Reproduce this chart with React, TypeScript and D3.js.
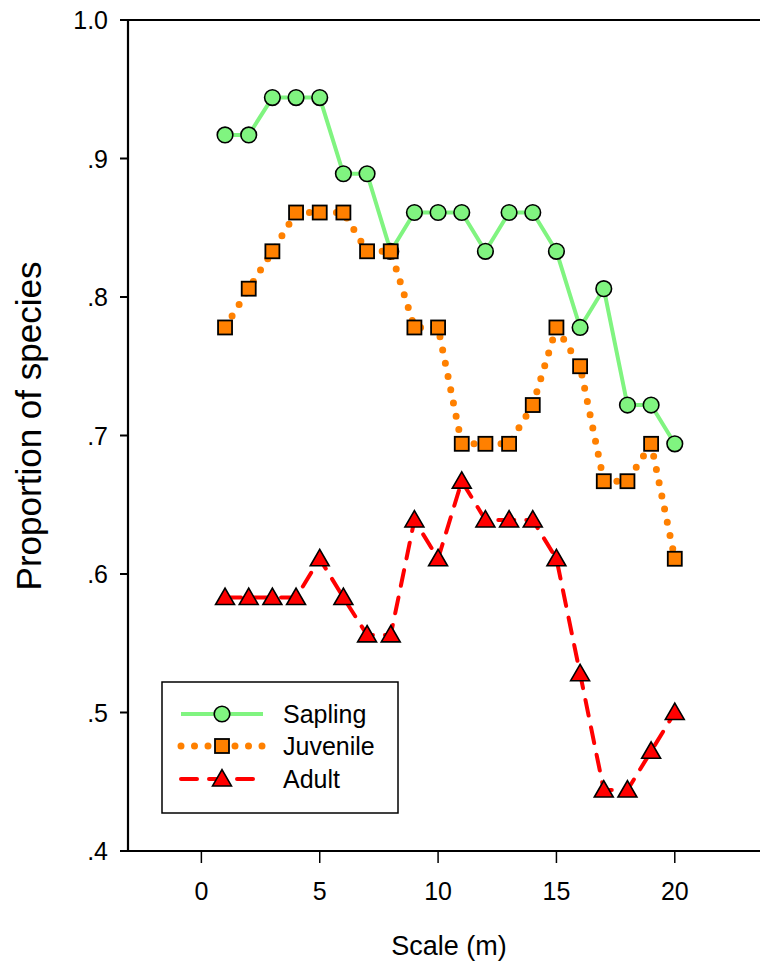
import React from 'react';
import * as d3 from 'd3';

// scale (m) along the x axis
const scales = [1, 2, 3, 4, 5, 6, 7, 8, 9, 10, 11, 12, 13, 14, 15, 16, 17, 18, 19, 20];

// proportion of species per life stage
const sapling = [0.917, 0.917, 0.944, 0.944, 0.944, 0.889, 0.889, 0.833, 0.861, 0.861,
  0.861, 0.833, 0.861, 0.861, 0.833, 0.778, 0.806, 0.722, 0.722, 0.694];
const juvenile = [0.778, 0.806, 0.833, 0.861, 0.861, 0.861, 0.833, 0.833, 0.778, 0.778,
  0.694, 0.694, 0.694, 0.722, 0.778, 0.75, 0.667, 0.667, 0.694, 0.611];
const adult = [0.583, 0.583, 0.583, 0.583, 0.611, 0.583, 0.556, 0.556, 0.639, 0.611,
  0.667, 0.639, 0.639, 0.639, 0.611, 0.528, 0.444, 0.444, 0.472, 0.5];

const xTicks = [0, 5, 10, 15, 20];
const yTicks = [0.4, 0.5, 0.6, 0.7, 0.8, 0.9, 1.0];
const yTickLabels = ['.4', '.5', '.6', '.7', '.8', '.9', '1.0'];

const FONT = 'Arial, "Liberation Sans", sans-serif';

const series = [
  { name: 'Sapling', values: sapling, color: '#80f480', marker: 'circle', width: 4, dash: null, cap: 'butt' },
  { name: 'Juvenile', values: juvenile, color: '#ff8000', marker: 'square', width: 7, dash: '0 13.5', cap: 'round' },
  { name: 'Adult', values: adult, color: '#ff0000', marker: 'triangle', width: 4, dash: '16 12', cap: 'round' },
];

function Marker({ type, x, y, color }: { type: string; x: number; y: number; color: string }) {
  if (type === 'circle') {
    return <circle cx={x} cy={y} r={7.8} fill={color} stroke="#000" strokeWidth={1.6} />;
  }
  if (type === 'square') {
    return <rect x={x - 7} y={y - 7} width={14} height={14} fill={color} stroke="#000" strokeWidth={1.8} />;
  }
  const tri = d3.symbol().type(d3.symbolTriangle).size(155)();
  return <path d={tri || ''} transform={`translate(${x},${y + 1.5})`} fill={color} stroke="#000" strokeWidth={1.6} />;
}

export default function App() {
  const width = 760;
  const height = 961;
  const left = 128;
  const right = 760;
  const top = 20;
  const bottom = 851;

  const x = d3.scaleLinear().domain([-3.1, 23.6]).range([left, right]);
  const y = d3.scaleLinear().domain([0.4, 1.0]).range([bottom, top]);

  const line = d3.line<number>()
    .x((d, i) => x(scales[i]))
    .y((d) => y(d));

  const legendX = 162;
  const legendY = 682;
  const legendRows = [714, 746, 779];

  return (
    <svg width={width} height={height} style={{ position: 'absolute', left: 0, top: 0 }} fontFamily={FONT}>
      <rect width={width} height={height} fill="#fff" />

      {/* data */}
      {series.map((s) => (
        <g key={s.name}>
          <path
            d={line(s.values) || ''}
            fill="none"
            stroke={s.color}
            strokeWidth={s.width}
            strokeDasharray={s.dash || undefined}
            strokeLinecap={s.cap as any}
            strokeLinejoin="round"
          />
          {s.values.map((v, i) => (
            <Marker key={i} type={s.marker} x={x(scales[i])} y={y(v)} color={s.color} />
          ))}
        </g>
      ))}

      {/* frame */}
      <line x1={left} x2={right} y1={top} y2={top} stroke="#000" strokeWidth={2.2} />
      <line x1={left} x2={left} y1={top} y2={bottom} stroke="#000" strokeWidth={2.2} />
      <line x1={left - 8} x2={right} y1={bottom} y2={bottom} stroke="#000" strokeWidth={2.2} />

      {/* y axis */}
      {yTicks.map((t, i) => (
        <g key={t}>
          <line x1={left - 8} x2={left} y1={y(t)} y2={y(t)} stroke="#000" strokeWidth={2} />
          <text x={108} y={y(t) + 9} textAnchor="end" fontSize={25} fill="#000">{yTickLabels[i]}</text>
        </g>
      ))}

      {/* x axis */}
      {xTicks.map((t) => (
        <g key={t}>
          <line x1={x(t)} x2={x(t)} y1={bottom} y2={bottom + 12} stroke="#000" strokeWidth={1.5} />
          <text x={x(t)} y={900} textAnchor="middle" fontSize={25} fill="#000">{t}</text>
        </g>
      ))}

      <text x={449} y={955} textAnchor="middle" fontSize={27} fill="#000">Scale (m)</text>
      <text
        transform={`translate(41,426) rotate(-90)`}
        textAnchor="middle"
        fontSize={35}
        fill="#000"
      >
        Proportion of species
      </text>

      {/* legend */}
      <rect x={legendX} y={legendY} width={236} height={131} fill="#fff" stroke="#000" strokeWidth={1.5} />
      {series.map((s, i) => (
        <g key={s.name}>
          <line
            x1={181}
            x2={263}
            y1={legendRows[i]}
            y2={legendRows[i]}
            stroke={s.color}
            strokeWidth={s.width}
            strokeDasharray={s.dash || undefined}
            strokeLinecap={s.cap as any}
          />
          <Marker type={s.marker} x={222} y={legendRows[i]} color={s.color} />
          <text x={283} y={legendRows[i] + 9} fontSize={25} fill="#000">{s.name}</text>
        </g>
      ))}
    </svg>
  );
}
